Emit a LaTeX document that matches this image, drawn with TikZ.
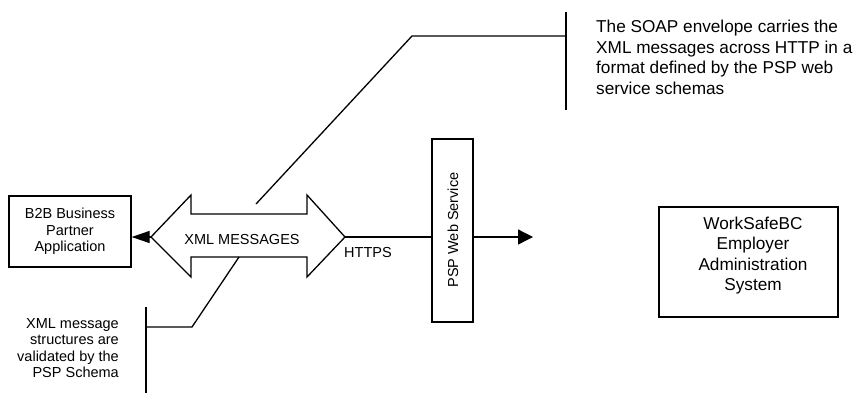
\documentclass[tikz,border=0pt]{standalone}
\usepackage{fontspec}
\setmainfont{Liberation Sans}
\usetikzlibrary{arrows.meta}
\tikzset{
  ln/.style={line width=1.3pt, line cap=butt, line join=miter},
  boxnode/.style={draw, ln, inner sep=0pt},
  smalltxt/.style={font=\fontsize{14.5}{16.3}\selectfont, inner sep=0pt},
  bigtxt/.style={font=\fontsize{17.2}{20.5}\selectfont, inner sep=0pt},
  tipL/.style={-{Triangle[length=18pt,width=12pt]}},
  tipR/.style={-{Triangle[length=15pt,width=15pt]}},
}
\begin{document}
\begin{tikzpicture}[x=1pt,y=-1pt]
\useasboundingbox (0,0) rectangle (856,394);
% boxes
\node[boxnode, minimum width=122pt, minimum height=71pt, align=center, smalltxt] (b2b) at (70,231.5) {B2B Business\\Partner\\Application};
\node[boxnode, minimum width=41pt, minimum height=183pt] (psp) at (452.5,230.5) {};
\node[smalltxt, rotate=90] (psptxt) at (453,230) {PSP Web Service};
\node[boxnode, minimum width=179pt, minimum height=110pt] (wsb) at (748.5,262) {};
\node[bigtxt, align=center] (wsbtxt) at (753,255.5) {WorkSafeBC\\Employer\\Administration\\System};
% coordinates
\coordinate (tipl) at (151,237);
\coordinate (tipr) at (345,237);
\coordinate (outend) at (533,237);
% connectors
\draw[ln, tipL] (psp.west |- tipl) -- (b2b.east |- tipl);
\draw[ln, tipR] (psp.east |- tipl) -- (outend);
% double arrow
\draw[ln, fill=white] (tipl) -- (191,195) -- (191,214) -- (307,214) -- (307,195) -- (tipr)
  -- (307,277) -- (307,257) -- (191,257) -- (191,277) -- cycle;
\node[smalltxt] (xml) at (242,240) {XML MESSAGES};
\node[smalltxt, anchor=west] (https) at (344,253) {HTTPS};
% upper callout
\coordinate (u0) at (256,204);
\coordinate (u1) at (412,36);
\coordinate (u2) at (566,36);
\coordinate (ut) at (566,12);
\coordinate (ub) at (566,110);
\draw[ln] (u0) -- (u1) -- (u2);
\draw[ln] (ut) -- (ub);
\node[bigtxt, align=left, anchor=west] (soap) at (596,57.5) {The SOAP envelope carries the\\XML messages across HTTP in a\\format defined by the PSP web\\service schemas};
% lower callout
\coordinate (l0) at (239,257);
\coordinate (l1) at (192,327);
\coordinate (l2) at (146,327);
\coordinate (lt) at (146,307);
\coordinate (lb) at (146,393);
\draw[ln] (l0) -- (l1) -- (l2);
\draw[ln] (lt) -- (lb);
\node[smalltxt, align=right, anchor=east] (schema) at (119,348) {XML message\\structures are\\validated by the\\PSP Schema};
\end{tikzpicture}
\end{document}
